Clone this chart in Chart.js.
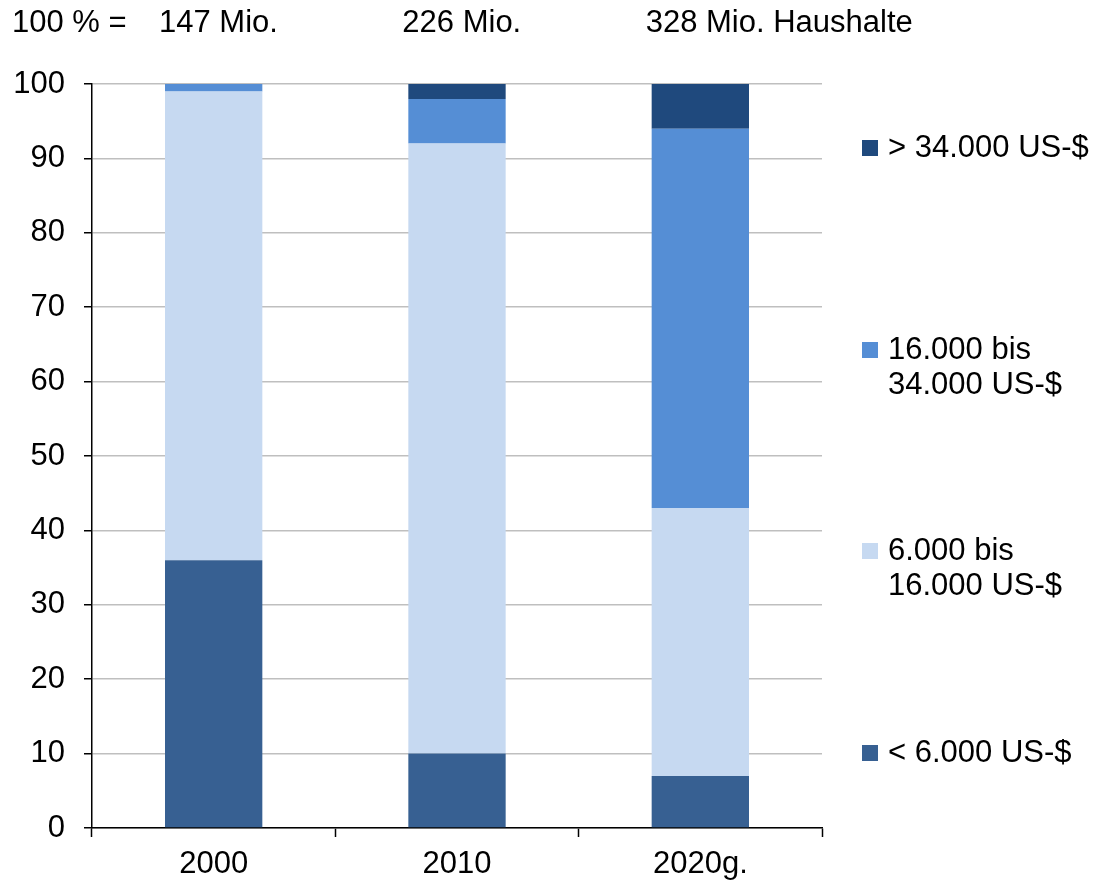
<!DOCTYPE html>
<html>
<head>
<meta charset="utf-8">
<script src="https://cdn.jsdelivr.net/npm/chart.js@4"></script>
<style>
  body { margin: 0; background: #fff; }
  #wrap { width: 1097px; height: 884px; }
</style>
</head>
<body>
<div id="wrap"><canvas id="myChart" width="1097" height="884"></canvas></div>
<script>
const categories = ['2000', '2010', '2020g.'];
const totals = ['147 Mio.', '226 Mio.', '328 Mio. Haushalte'];

// shares in percent, bottom to top
const under6k = [36, 10, 7];
const from6to16k = [63, 82, 36];
const from16to34k = [1, 6, 51];
const over34k = [0, 2, 6];

const seriesNames = [
    ['< 6.000 US-$'],
    ['6.000 bis', '16.000 US-$'],
    ['16.000 bis', '34.000 US-$'],
    ['> 34.000 US-$']
];
const colors = ['#376092', '#c6d9f1', '#558ed5', '#1f497d'];
const legendY = [753, 551, 350, 148];

const FONT = '"Liberation Sans", Arial, sans-serif';
const FS = 31;

const labelsPlugin = {
    id: 'sideLabels',
    afterDraw: (chart) => {
        const { ctx } = chart;
        const meta = chart.getDatasetMeta(0);
        ctx.save();
        ctx.fillStyle = '#000';
        ctx.font = FS + 'px ' + FONT;
        ctx.textBaseline = 'middle';
        ctx.textAlign = 'left';

        // "100 % =" row on top
        ctx.fillText('100 % =', 12, 23);
        totals.forEach((t, i) => {
            const bar = meta.data[i];
            const left = bar.x - bar.width / 2;
            ctx.fillText(t, left - 6, 23);
        });

        // custom legend
        seriesNames.forEach((lines, i) => {
            const y = legendY[i];
            ctx.fillStyle = colors[i];
            ctx.fillRect(862, y - 8, 16, 16);
            ctx.fillStyle = '#000';
            lines.forEach((line, j) => {
                ctx.fillText(line, 888, y + j * 35);
            });
        });
        ctx.restore();
    }
};

const ctx = document.getElementById('myChart').getContext('2d');
const dataSets = [under6k, from6to16k, from16to34k, over34k];

new Chart(ctx, {
    type: 'bar',
    data: {
        labels: categories,
        datasets: dataSets.map((d, i) => ({
            label: seriesNames[i].join(' '),
            data: d,
            backgroundColor: colors[i],
            borderWidth: 0,
            barPercentage: 0.8,
            categoryPercentage: 0.5
        }))
    },
    plugins: [labelsPlugin],
    options: {
        responsive: false,
        animation: false,
        layout: { padding: { top: 84, right: 275, bottom: 0, left: 0 } },
        plugins: {
            legend: { display: false },
            tooltip: { enabled: false }
        },
        scales: {
            x: {
                stacked: true,
                offset: true,
                grid: {
                    display: true,
                    offset: true,
                    drawOnChartArea: false,
                    tickLength: 9,
                    tickColor: '#000',
                    tickWidth: 1.5
                },
                border: { color: '#000', width: 1.5 },
                ticks: { color: '#000', font: { size: FS, family: FONT }, padding: 9 },
                afterFit: (s) => { s.height = 56; }
            },
            y: {
                stacked: true,
                min: 0,
                max: 100,
                ticks: { stepSize: 10, color: '#000', font: { size: FS, family: FONT }, padding: 19 },
                grid: {
                    color: '#bfbfbf',
                    lineWidth: 1.5,
                    tickLength: 8,
                    tickColor: '#000'
                },
                border: { color: '#000', width: 1.5 },
                afterFit: (s) => { s.width = 92; }
            }
        }
    }
});
</script>
</body>
</html>
